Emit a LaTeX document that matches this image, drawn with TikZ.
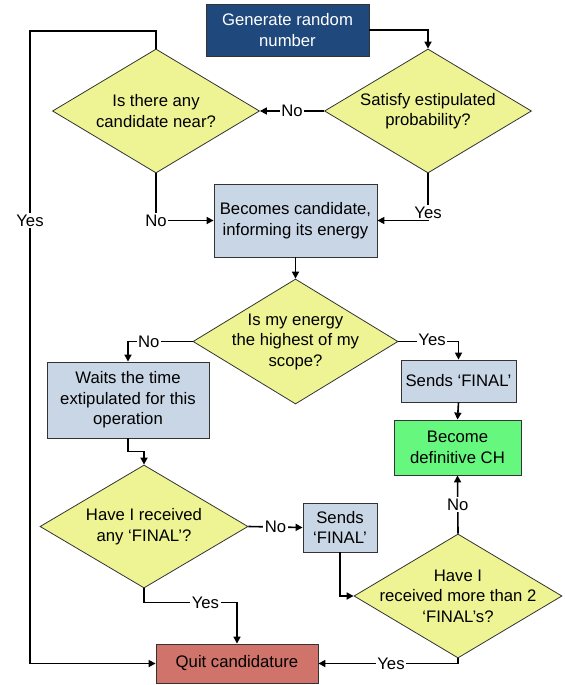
\documentclass[tikz,border=0pt]{standalone}
\usepackage{fontspec}
\setmainfont{Liberation Sans}
\usetikzlibrary{shapes.geometric, arrows.meta}

\definecolor{genblue}{HTML}{1F497D}
\definecolor{askyel}{HTML}{EEF494}
\definecolor{stepblue}{HTML}{C8D6E6}
\definecolor{chgreen}{HTML}{66F77F}
\definecolor{quitred}{HTML}{CF736B}

\begin{document}
\begin{tikzpicture}[
    x=1bp, y=-1bp,
    every node/.style = {font=\fontsize{16.7bp}{20.5bp}\selectfont, align=center},
    boxv/.style       = {rectangle, draw=black!80, line width=0.8bp, inner sep=0pt},
    askv/.style       = {diamond, draw=black!80, line width=0.8bp, fill=askyel,
                         inner sep=-30bp, minimum width=207bp, minimum height=124bp},
    arr/.style        = {line width=1.6bp, -{Triangle[length=7bp,width=7bp]}},
    lbl/.style        = {fill=white, inner sep=1.5bp}
    ]
      \useasboundingbox (0,0) rectangle (566,685);

      % boxes ----------------------------------------------------
      \node[boxv,fill=genblue,text=white,minimum width=163bp,minimum height=52bp]
            (gen) at (287.5,30) {Generate random\\number};
      \node[boxv,fill=stepblue,minimum width=163bp,minimum height=73bp]
            (cand) at (295.5,220.5) {Becomes candidate,\\informing its energy};
      \node[boxv,fill=stepblue,minimum width=162bp,minimum height=76bp]
            (wait) at (128,400) {Waits the time\\extipulated for this\\operation};
      \node[boxv,fill=stepblue,minimum width=115bp,minimum height=42bp]
            (sendA) at (458.5,381) {Sends `FINAL'};
      \node[boxv,fill=chgreen,minimum width=127bp,minimum height=55bp]
            (ch) at (457.5,447.5) {Become\\definitive CH};
      \node[boxv,fill=stepblue,minimum width=74bp,minimum height=49bp]
            (sendB) at (340,527.5) {Sends\\`FINAL'};
      \node[boxv,fill=quitred,minimum width=162bp,minimum height=39bp]
            (quit) at (237,663.5) {Quit candidature};

      % questions ------------------------------------------------
      \node[askv] (prob) at (428,111)   {Satisfy estipulated\\probability?};
      \node[askv] (near) at (156,111)   {Is there any\\candidate near?};
      \node[askv,minimum width=205bp,minimum height=125bp]
                  (high) at (295.5,341.5) {Is my energy\\the highest of my\\scope?};
      \node[askv,minimum width=208bp,minimum height=123bp]
                  (anyf) at (144,526.5) {Have I received\\any `FINAL'?};
      \node[askv,minimum width=208bp]
                  (more) at (458,596)   {Have I\\received more than 2\\`FINAL's?};

      \coordinate (loop) at (30,31);

      % edges ----------------------------------------------------
      \draw[arr] (gen.east) -| (prob.north);
      \draw[arr] (prob.west) -- node[lbl]{No} (near.east);
      \draw[arr] (near.south) |- node[lbl]{No} (cand.west);
      \draw[arr] (prob.south) |- node[lbl,yshift=8bp]{Yes} (cand.east);
      \draw[arr] (cand.south) -- (high.north);
      \draw[arr] (high.west) -| node[lbl,pos=0.34]{No} (wait.north);
      \draw[arr] (high.east) -| node[lbl,pos=0.28,yshift=2bp]{Yes} (sendA.north);
      \draw[arr] (sendA.south) -- (ch.north);
      \draw[arr] (wait.south) -- ++(0,13) -| (anyf.north);
      \draw[arr] (anyf.east) -- node[lbl]{No} (sendB.west);
      \draw[arr] (sendB.south) |- (more.west);
      \draw[arr] (more.north) -- node[lbl]{No} (ch.south);
      \draw[arr] (more.south) |- node[lbl,pos=0.74]{Yes} (quit.east);
      \draw[arr] (anyf.south) -- ++(0,14) -| node[lbl,pos=0.33]{Yes} (quit.north);
      \draw[arr] (near.north) |- (loop) |- node[lbl,pos=0.15]{Yes} (quit.west);
\end{tikzpicture}
\end{document}
